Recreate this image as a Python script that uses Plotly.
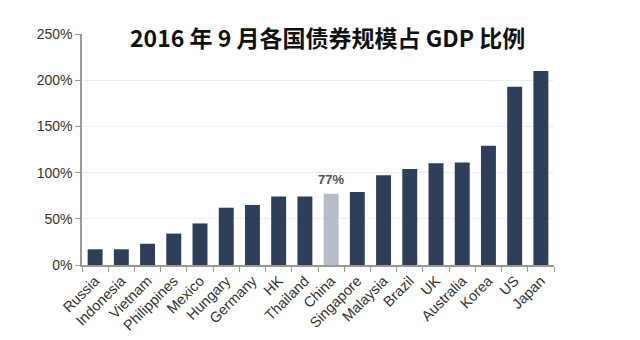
import plotly.graph_objects as go

countries = ["Russia", "Indonesia", "Vietnam", "Philippines", "Mexico", "Hungary",
             "Germany", "HK", "Thailand", "China", "Singapore", "Malaysia", "Brazil",
             "UK", "Australia", "Korea", "US", "Japan"]
values = [17, 17, 23, 34, 45, 62, 65, 74, 74, 77, 79, 97, 104, 110, 111, 129, 193, 210]
highlight = "China"
y_ticks = [0, 50, 100, 150, 200, 250]
y_ticklabels = ["0%", "50%", "100%", "150%", "200%", "250%"]

dark = "#2f3e59"
light = "#b7bcca"
colors = [light if c == highlight else dark for c in countries]

fig = go.Figure(go.Bar(x=countries, y=values, marker=dict(color=colors, line_width=0),
                       hoverinfo="x+y"))

hi_val = values[countries.index(highlight)]
fig.add_annotation(x=highlight, y=hi_val, text="<b>%d%%</b>" % hi_val, showarrow=False,
                   yshift=14, font=dict(family="Liberation Sans, Arial", size=13, color="#555555"))

fig.add_annotation(x=0.52, y=0.987, xref="paper", yref="paper", xanchor="center", yanchor="middle",
                   text="<b>2016 年 9 月各国债券规模占 GDP 比例</b>", showarrow=False,
                   font=dict(family="Noto Sans CJK SC, Liberation Sans", size=23, color="#111111"))

fig.update_layout(
    width=640, height=340,
    margin=dict(l=82, r=86, t=34, b=75),
    plot_bgcolor="white", paper_bgcolor="white",
    bargap=0.43, showlegend=False,
    font=dict(family="Liberation Sans, Arial", color="#333333"),
)
fig.update_xaxes(
    showline=True, linecolor="#999999", linewidth=1.5, automargin=False,
    ticks="outside", tickson="boundaries", ticklen=5, tickcolor="#999999",
    tickangle=-45, tickfont=dict(size=14.5, color="#333333"), showgrid=False,
)
fig.update_yaxes(
    range=[0, 250], tickvals=y_ticks, ticktext=y_ticklabels, automargin=False,
    showline=True, linecolor="#999999", linewidth=1.5,
    ticks="outside", ticklen=5, tickcolor="#999999",
    showgrid=True, gridcolor="#eeeeee", zeroline=False,
    tickfont=dict(size=14, color="#333333"),
)

fig.write_html("out.html")
